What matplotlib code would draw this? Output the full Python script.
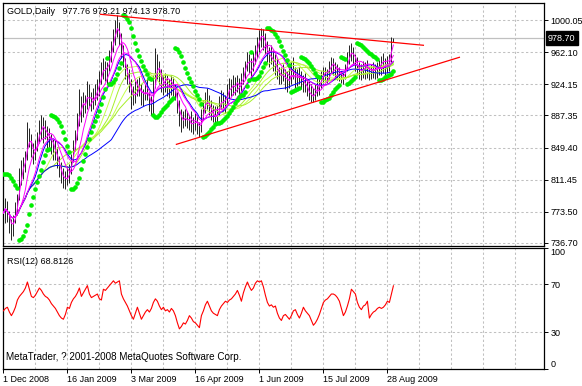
import numpy as np
import pandas as pd
import matplotlib
matplotlib.use("Agg")
import matplotlib.pyplot as plt
import matplotlib.transforms as mtransforms

# ---------------- data ----------------
highs = [818, 790, 786, 775, 765, 770, 785, 795, 825, 835,
         838, 845, 880, 872, 865, 855, 858, 868, 882, 888,
         885, 882, 875, 872, 866, 860, 858, 850, 840, 832,
         825, 822, 828, 830, 842, 858, 870, 890, 918, 910,
         915, 912, 928, 925, 915, 920, 925, 930, 940, 950,
         955, 952, 950, 965, 975, 990, 1000, 1006, 998, 985,
         970, 955, 948, 942, 930, 922, 928, 930, 933, 925,
         918, 925, 930, 915, 910, 935, 967, 960, 952, 942,
         935, 938, 935, 930, 935, 933, 925, 915, 905, 895,
         892, 895, 892, 888, 892, 885, 890, 888, 880, 895,
         905, 915, 920, 912, 905, 900, 898, 900, 910, 917,
         915, 912, 925, 931, 930, 935, 933, 935, 932, 938,
         945, 952, 962, 960, 955, 962, 970, 980, 988, 991,
         990, 985, 975, 968, 970, 965, 960, 955, 945, 945,
         948, 942, 940, 945, 950, 956, 945, 942, 945, 940,
         935, 938, 930, 928, 925, 920, 925, 933, 930, 940,
         945, 945, 942, 952, 956, 955, 950, 948, 945, 940,
         938, 948, 962, 970, 973, 968, 960, 956, 950, 948,
         952, 950, 953, 945, 948, 950, 948, 950, 953, 958,
         961, 955, 958, 960, 980, 979.21]
lows = [752, 760, 762, 748, 740, 745, 760, 770, 788, 805,
        812, 820, 835, 850, 838, 830, 835, 845, 855, 860,
        855, 860, 848, 850, 842, 835, 835, 825, 815, 808,
        802, 800, 805, 808, 818, 832, 845, 858, 875, 880,
        885, 890, 895, 898, 892, 895, 900, 905, 910, 925,
        930, 928, 925, 940, 950, 962, 970, 980, 970, 955,
        945, 930, 925, 915, 895, 900, 902, 910, 910, 900,
        898, 905, 905, 892, 888, 885, 920, 930, 925, 915,
        912, 915, 910, 908, 912, 910, 905, 890, 875, 868,
        872, 875, 872, 870, 868, 865, 870, 865, 862, 868,
        882, 890, 895, 888, 882, 880, 878, 880, 888, 895,
        892, 890, 900, 908, 910, 912, 912, 915, 912, 915,
        925, 930, 940, 938, 930, 940, 948, 955, 962, 968,
        965, 960, 950, 945, 948, 940, 935, 930, 925, 925,
        928, 918, 915, 920, 925, 930, 920, 922, 925, 918,
        915, 915, 910, 905, 903, 903, 905, 910, 912, 920,
        926, 928, 926, 930, 938, 935, 932, 929, 928, 926,
        925, 930, 940, 948, 952, 948, 940, 935, 930, 929,
        932, 930, 932, 929, 930, 932, 930, 932, 935, 935,
        938, 935, 938, 940, 950, 974.13]
closes = [772, 782, 768, 760, 752, 765, 778, 790, 818, 825,
          830, 840, 868, 858, 845, 840, 852, 862, 875, 870,
          878, 865, 858, 868, 850, 848, 842, 832, 822, 815,
          810, 815, 812, 825, 838, 852, 862, 885, 905, 892,
          908, 898, 920, 905, 900, 912, 915, 918, 935, 940,
          945, 938, 948, 958, 970, 985, 990, 995, 975, 962,
          950, 938, 930, 920, 910, 905, 920, 915, 925, 905,
          912, 920, 910, 900, 895, 925, 945, 950, 935, 922,
          925, 928, 918, 915, 928, 918, 908, 895, 880, 885,
          880, 888, 878, 882, 872, 880, 885, 872, 868, 890,
          900, 908, 900, 895, 890, 885, 882, 895, 902, 910,
          898, 908, 918, 925, 915, 928, 920, 930, 918, 932,
          940, 948, 958, 945, 950, 955, 965, 975, 982, 985,
          975, 965, 955, 960, 955, 945, 950, 935, 930, 940,
          935, 922, 935, 928, 940, 935, 928, 938, 932, 925,
          930, 920, 915, 910, 912, 908, 918, 922, 925, 935,
          940, 938, 935, 948, 952, 945, 940, 945, 935, 930,
          935, 945, 958, 960, 965, 955, 950, 940, 938, 942,
          945, 942, 948, 935, 940, 945, 938, 945, 948, 950,
          955, 948, 952, 955, 977.76, 978.70]
rsi_values = [48, 50, 51, 47, 44, 47, 51, 57, 60, 62,
              64, 67, 72, 66, 60, 59, 61, 64, 67, 65,
              62, 60, 59, 57, 54, 52, 50, 47, 44, 42,
              41, 45, 51, 50, 55, 58, 60, 63, 67, 60,
              63, 66, 69, 62, 59, 60, 61, 62, 58, 57,
              66, 65, 67, 69, 71, 73, 71, 72, 73, 62,
              58, 55, 52, 48, 44, 41, 46, 51, 46, 41,
              44, 47, 49, 47, 50, 55, 58, 56, 52, 49,
              51, 48, 49, 47, 50, 48, 44, 38, 33, 35,
              38, 37, 40, 44, 42, 39, 38, 36, 34, 44,
              48, 53, 56, 52, 48, 46, 45, 44, 49, 52,
              54, 56, 55, 57, 58, 60, 62, 65, 61, 56,
              63, 68, 72, 68, 65, 67, 71, 73, 72, 73,
              68, 61, 55, 52, 53, 51, 52, 46, 42, 40,
              44, 45, 43, 41, 44, 48, 49, 45, 42, 46,
              51, 48, 46, 44, 40, 36, 38, 41, 45, 50,
              55, 57, 58, 60, 62, 62, 61, 59, 56, 50,
              44, 47, 52, 58, 66, 64, 62, 55, 51, 49,
              52, 53, 56, 42, 45, 47, 48, 50, 51, 50,
              51, 53, 56, 55, 62, 68.8126]

date_tick_bars = [0, 32, 64, 96, 128, 160, 192]
date_tick_labels = ["1 Dec 2008", "16 Jan 2009", "3 Mar 2009", "16 Apr 2009",
                    "1 Jun 2009", "15 Jul 2009", "28 Aug 2009"]
price_ticks = [1000.05, 962.10, 924.15, 887.35, 849.40, 811.45, 773.50, 736.70]
rsi_ticks = [100, 70, 30, 0]
last_price = 978.70

trend_upper_x = [48.5, 210.0]
trend_upper_y = [1006.8, 970.2]
trend_lower_x = [86.5, 228.0]
trend_lower_y = [853.2, 956.0]

magenta_periods = [3, 8, 13]
green_periods = [21, 26, 31, 36]
blue_periods = [14, 55]

# ---------------- indicators ----------------
h = np.array(highs, float)
l = np.array(lows, float)
c = pd.Series(closes, dtype=float)
n = len(c)
x = np.arange(n)


def psar(high, low, af0=0.02, afmax=0.2):
    out = np.zeros(len(high))
    bull = False
    af = af0
    ep = low[0]
    out[0] = high[0]
    for i in range(1, len(high)):
        s = out[i - 1] + af * (ep - out[i - 1])
        if bull:
            s = min(s, low[i - 1], low[max(i - 2, 0)])
            if low[i] < s:
                bull = False
                s = ep
                ep = low[i]
                af = af0
            elif high[i] > ep:
                ep = high[i]
                af = min(af + af0, afmax)
        else:
            s = max(s, high[i - 1], high[max(i - 2, 0)])
            if high[i] > s:
                bull = True
                s = ep
                ep = high[i]
                af = af0
            elif low[i] < ep:
                ep = low[i]
                af = min(af + af0, afmax)
        out[i] = s
    return out


sar = psar(h, l)

# ---------------- figure ----------------
W, H = 582, 386
fig = plt.figure(figsize=(W / 100, H / 100), dpi=100)
fig.patch.set_facecolor("white")
FONT = "Liberation Sans"
FS = 6.5

left_px, right_px = 3, 544
ax1 = fig.add_axes([left_px / W, 1 - 246 / H, (right_px - left_px) / W, (246 - 3) / H])
ax2 = fig.add_axes([left_px / W, 1 - 369 / H, (right_px - left_px) / W, (369 - 248) / H])

xlo, xhi = -0.2, 270.3
grid_kw = dict(color="#c0c0c0", linewidth=0.75, dashes=(2.2, 2.2))

for ax in (ax1, ax2):
    ax.set_xlim(xlo, xhi)
    for s in ax.spines.values():
        s.set_color("black")
        s.set_linewidth(0.9)
    ax.yaxis.tick_right()
    ax.tick_params(axis="y", direction="out", length=3, width=0.7, pad=1.5,
                   labelsize=FS, colors="black")
    for b in range(16, 271, 16):
        ax.axvline(b, zorder=0, **grid_kw)

# main panel
ax1.set_ylim(733.14, 1020.13)
for p in price_ticks:
    ax1.axhline(p, zorder=0, **grid_kw)
ax1.axhline(last_price, color="#c0c0c0", linewidth=0.9, zorder=0.5)
ax1.set_yticks(price_ticks)
ax1.set_yticklabels([f"{p:.2f}" for p in price_ticks], fontfamily=FONT)
ax1.set_xticks([])

ax1.vlines(x, l, h, color="black", linewidth=0.6, zorder=2)

for p in green_periods:
    shade = "#c4ff4a" if p % 2 else "#a6ee2a"
    ax1.plot(x, c.rolling(p, min_periods=1).mean(), color=shade, linewidth=0.7, zorder=3)
for p in blue_periods:
    ax1.plot(x, c.rolling(p, min_periods=1).mean(), color="#0000ff", linewidth=0.7, zorder=3)
for p in magenta_periods:
    ax1.plot(x, c.rolling(p, min_periods=1).mean(), color="#ff00ff", linewidth=0.7, zorder=3)

ax1.plot(x, sar, linestyle="none", marker="o", markersize=2.3,
         markerfacecolor="#00ee00", markeredgecolor="#00ee00", zorder=4)

ax1.plot(trend_upper_x, trend_upper_y, color="#ff0000", linewidth=0.9, zorder=5)
ax1.plot(trend_lower_x, trend_lower_y, color="#ff0000", linewidth=0.9, zorder=5)

trans = mtransforms.blended_transform_factory(ax1.transAxes, ax1.transData)
ax1.text(1.0 + 4.0 / (right_px - left_px), last_price, f"{last_price:.2f}", transform=trans,
         ha="left", va="center", fontsize=FS, fontfamily=FONT, color="white",
         bbox=dict(boxstyle="square,pad=0.25", facecolor="black", edgecolor="black"),
         zorder=10, clip_on=False)

fig.text(7 / W, 1 - 12 / H, "GOLD,Daily   977.76 979.21 974.13 978.70",
         ha="left", va="center", fontsize=FS, fontfamily=FONT, color="black")

# RSI panel
ax2.set_ylim(-0.4, 100.3)
for v in (30, 70):
    ax2.axhline(v, zorder=0, **grid_kw)
ax2.plot(x, rsi_values, color="#ff0000", linewidth=0.8, zorder=3)
ax2.set_yticks(rsi_ticks)
ax2.set_yticklabels([str(v) for v in rsi_ticks], fontfamily=FONT)
for lab, v in zip(ax2.get_yticklabels(), rsi_ticks):
    if v == 100:
        lab.set_verticalalignment("top")
    elif v == 0:
        lab.set_verticalalignment("bottom")

ax2.set_xticks(date_tick_bars)
ax2.set_xticklabels(date_tick_labels, fontfamily=FONT, fontsize=FS, ha="left")
ax2.tick_params(axis="x", direction="out", length=3, width=0.7, pad=1.5)

fig.text(7 / W, 1 - 262 / H, "RSI(12) 68.8126", ha="left", va="center",
         fontsize=FS, fontfamily=FONT, color="black")
fig.text(6 / W, 1 - 357 / H, "MetaTrader, ? 2001-2008 MetaQuotes Software Corp.",
         ha="left", va="center", fontsize=7.1, fontfamily=FONT, color="black")

fig.savefig("out.png", dpi=100, facecolor="white")
